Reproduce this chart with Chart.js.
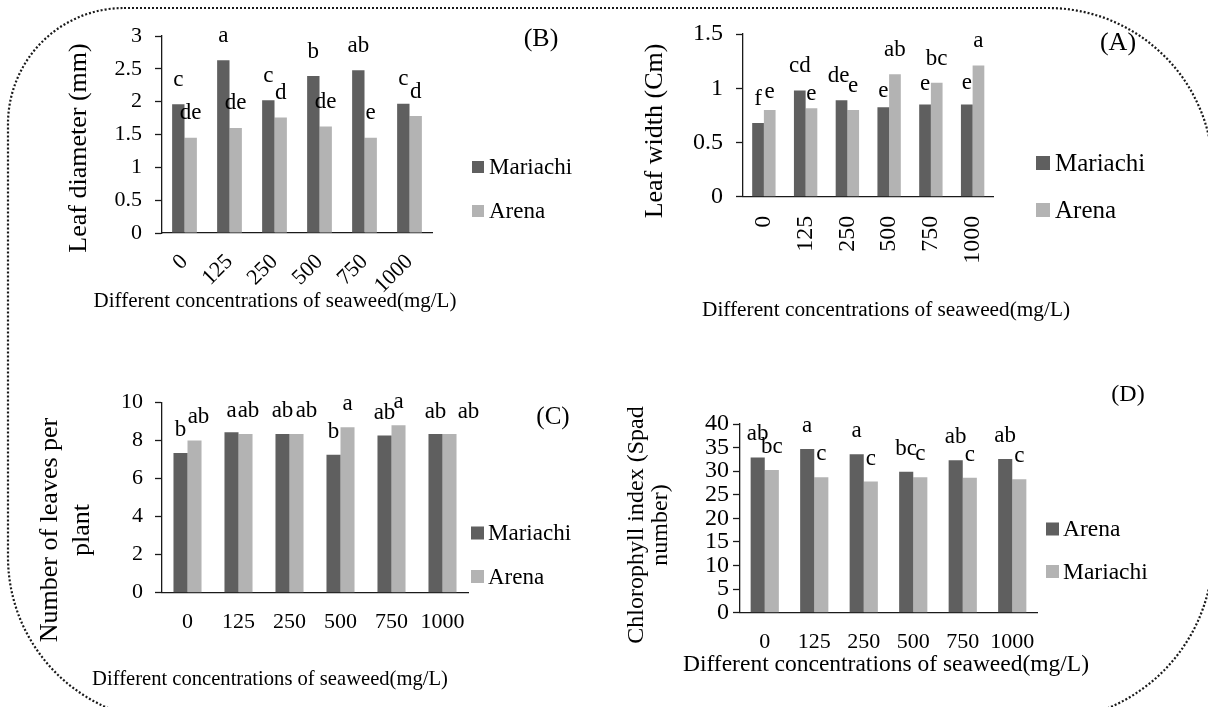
<!DOCTYPE html>
<html>
<head>
<meta charset="utf-8">
<script src="https://cdn.jsdelivr.net/npm/chart.js@4.4.1/dist/chart.umd.min.js"></script>
<style>
  html, body { margin: 0; padding: 0; background: #ffffff; }
  #stage { position: relative; width: 1208px; height: 707px; overflow: hidden; background: #ffffff; }
  #stage canvas, #frame { position: absolute; left: 0; top: 0; }
</style>
</head>
<body>
<div id="stage">
  <svg id="frame" width="1208" height="707"></svg>
  <canvas id="panelB" width="1208" height="707"></canvas>
  <canvas id="panelA" width="1208" height="707"></canvas>
  <canvas id="panelC" width="1208" height="707"></canvas>
  <canvas id="panelD" width="1208" height="707"></canvas>
</div>
<script>
// Seaweed concentrations (mg/L) shared by all four panels
const concentrations = ['0', '125', '250', '500', '750', '1000'];

// (B) Leaf diameter (mm)
const diameterMariachi = [1.96, 2.63, 2.02, 2.39, 2.48, 1.97];
const diameterArena    = [1.45, 1.60, 1.76, 1.62, 1.45, 1.78];
const diameterLettersMariachi = ['c', 'a', 'c', 'b', 'ab', 'c'];
const diameterLettersArena    = ['de', 'de', 'd', 'de', 'e', 'd'];

// (A) Leaf width (Cm)
const widthMariachi = [0.68, 0.98, 0.89, 0.825, 0.85, 0.85];
const widthArena    = [0.80, 0.815, 0.80, 1.13, 1.05, 1.21];
const widthLettersMariachi = ['f', 'cd', 'de', 'e', 'e', 'e'];
const widthLettersArena    = ['e', 'e', 'e', 'ab', 'bc', 'a'];

// (C) Number of leaves per plant
const leavesMariachi = [7.34, 8.43, 8.34, 7.24, 8.25, 8.34];
const leavesArena    = [8.00, 8.34, 8.34, 8.69, 8.79, 8.34];
const leavesLettersMariachi = ['b', 'a', 'ab', 'b', 'ab', 'ab'];
const leavesLettersArena    = ['ab', 'ab', 'ab', 'a', 'a', 'ab'];

// (D) Chlorophyll index (Spad number)
const chlorophyllArena    = [32.9, 34.7, 33.6, 29.9, 32.3, 32.6];
const chlorophyllMariachi = [30.25, 28.7, 27.8, 28.7, 28.6, 28.3];
const chlorophyllLettersArena    = ['ab', 'a', 'a', 'bc', 'ab', 'ab'];
const chlorophyllLettersMariachi = ['bc', 'c', 'c', 'c', 'c', 'c'];

const xTitle = 'Different concentrations of seaweed(mg/L)';

// ---- look ----
const SERIF = "'Liberation Serif', 'Times New Roman', serif";
const DARK = '#5f5f5f';
const LIGHT = '#b3b3b3';
const AXIS = '#1a1a1a';
const INK = '#000000';
const W = 1208, H = 707;
const Y_BOX = 80, X_BOX = 70;

// dotted rounded frame around the whole figure
(function drawFrame() {
  const l = 8, t = 8, r = 1213, b = 721;
  const tl = 116, tr = 165, br = 170, bl = 164;
  const d = [
    `M ${l + tl} ${t}`, `L ${r - tr} ${t}`, `A ${tr} ${tr} 0 0 1 ${r} ${t + tr}`,
    `L ${r} ${b - br}`, `A ${br} ${br} 0 0 1 ${r - br} ${b}`,
    `L ${l + bl} ${b}`, `A ${bl} ${bl} 0 0 1 ${l} ${b - bl}`,
    `L ${l} ${t + tl}`, `A ${tl} ${tl} 0 0 1 ${l + tl} ${t}`, 'Z'
  ].join(' ');
  const p = document.createElementNS('http://www.w3.org/2000/svg', 'path');
  p.setAttribute('d', d);
  p.setAttribute('fill', 'none');
  p.setAttribute('stroke', '#1a1a1a');
  p.setAttribute('stroke-width', '2.2');
  p.setAttribute('stroke-dasharray', '2 2');
  document.getElementById('frame').appendChild(p);
})();

// letters, legend, axis titles and panel tag
const panelDecor = {
  id: 'panelDecor',
  afterDraw(chart, args, o) {
    const ctx = chart.ctx;
    ctx.save();
    ctx.fillStyle = INK;

    // significance letters above each bar
    ctx.font = `${o.letterSize}px ${SERIF}`;
    ctx.textAlign = 'center';
    ctx.textBaseline = 'alphabetic';
    chart.data.datasets.forEach((ds, di) => {
      const meta = chart.getDatasetMeta(di);
      meta.data.forEach((bar, i) => {
        const n = (o.nudge || []).find(q => q.ds === di && q.i === i) || {};
        ctx.fillText(ds.letters[i], bar.x + (n.dx || 0), bar.y - o.gap + (n.dy || 0));
      });
    });

    // legend
    const lg = o.legend;
    ctx.font = `${lg.size}px ${SERIF}`;
    ctx.textAlign = 'left';
    ctx.textBaseline = 'middle';
    chart.data.datasets.forEach((ds, di) => {
      const cy = lg.y + di * lg.dy;
      ctx.fillStyle = ds.backgroundColor;
      ctx.fillRect(lg.x, cy - lg.box / 2, lg.box, lg.box);
      ctx.fillStyle = INK;
      ctx.fillText(ds.label, lg.x + lg.box + lg.gap, cy + 1);
    });

    // y axis title (one or two lines, rotated)
    const yt = o.yTitle;
    ctx.font = `${yt.size}px ${SERIF}`;
    ctx.textAlign = 'center';
    ctx.textBaseline = 'middle';
    yt.lines.forEach((line, k) => {
      ctx.save();
      ctx.translate(yt.x + k * yt.lineGap, yt.y);
      ctx.rotate(-Math.PI / 2);
      ctx.fillText(line, 0, 0);
      ctx.restore();
    });

    // x axis title
    const xt = o.xTitle;
    ctx.font = `${xt.size}px ${SERIF}`;
    ctx.fillText(xTitle, xt.x, xt.y);

    // panel tag
    const tg = o.tag;
    ctx.font = `${tg.size}px ${SERIF}`;
    ctx.fillText(tg.text, tg.x, tg.y);
    ctx.restore();
  }
};

function zeroPad(s) { s.paddingLeft = 0; s.paddingRight = 0; s.paddingTop = 0; s.paddingBottom = 0; }

function makePanel(id, p) {
  const a = p.area;
  return new Chart(document.getElementById(id), {
    type: 'bar',
    data: {
      labels: concentrations,
      datasets: p.series.map((s, k) => ({
        label: s.label,
        data: s.data,
        letters: s.letters,
        backgroundColor: k === 0 ? DARK : LIGHT,
        borderWidth: 0,
        categoryPercentage: p.group,
        barPercentage: 1.0
      }))
    },
    options: {
      responsive: false,
      animation: false,
      devicePixelRatio: 1,
      layout: { padding: { left: a.l - Y_BOX, right: W - a.r, top: a.t, bottom: H - a.b - X_BOX } },
      plugins: {
        legend: { display: false },
        tooltip: { enabled: false },
        panelDecor: p.decor
      },
      scales: {
        x: {
          offset: true,
          grid: { display: false, drawTicks: false },
          border: { display: true, color: AXIS, width: 1.3 },
          ticks: {
            color: INK, font: { family: SERIF, size: p.xTickSize },
            padding: p.xTickPad, minRotation: p.rot, maxRotation: p.rot,
            autoSkip: false, labelOffset: p.labelOffset || 0
          },
          afterFit(s) { s.height = X_BOX; zeroPad(s); }
        },
        y: {
          min: 0, max: p.yMax,
          ticks: {
            stepSize: p.yStep, color: INK, font: { family: SERIF, size: p.yTickSize },
            padding: p.yTickPad, autoSkip: false, callback: v => String(v)
          },
          grid: { drawOnChartArea: false, drawTicks: true, tickLength: 7, tickColor: AXIS, tickWidth: 1.3 },
          border: { display: true, color: AXIS, width: 1.3 },
          afterFit(s) { s.width = Y_BOX; zeroPad(s); }
        }
      }
    },
    plugins: [panelDecor]
  });
}

// (B) top left
makePanel('panelB', {
  area: { l: 162, r: 432, t: 36, b: 233 },
  yMax: 3, yStep: 0.5, group: 0.55, rot: 45,
  xTickSize: 22, xTickPad: 16, yTickSize: 22, yTickPad: 13,
  series: [
    { label: 'Mariachi', data: diameterMariachi, letters: diameterLettersMariachi },
    { label: 'Arena', data: diameterArena, letters: diameterLettersArena }
  ],
  decor: {
    letterSize: 23, gap: 18.5,
    legend: { x: 472, y: 167, dy: 44, box: 12, gap: 5, size: 23 },
    yTitle: { lines: ['Leaf diameter (mm)'], x: 79, y: 148, lineGap: 0, size: 26 },
    xTitle: { x: 275, y: 301, size: 21 },
    tag: { text: '(B)', x: 541, y: 39, size: 26 }
  }
});

// (A) top right
makePanel('panelA', {
  area: { l: 743, r: 993.5, t: 34, b: 196.7 },
  yMax: 1.5, yStep: 0.5, group: 0.56, rot: 90,
  xTickSize: 24, xTickPad: 19, yTickSize: 24, yTickPad: 13,
  series: [
    { label: 'Mariachi', data: widthMariachi, letters: widthLettersMariachi },
    { label: 'Arena', data: widthArena, letters: widthLettersArena }
  ],
  decor: {
    letterSize: 23, gap: 18,
    nudge: [
      { ds: 1, i: 0, dy: 6.3 }, { ds: 1, i: 1, dy: 9.7 },
      { ds: 0, i: 3, dy: 7.4 }, { ds: 0, i: 4, dy: 3.5 }, { ds: 0, i: 5, dy: 2 },
      { ds: 0, i: 2, dx: -3 }
    ],
    legend: { x: 1036, y: 163, dy: 47, box: 14, gap: 5, size: 25 },
    yTitle: { lines: ['Leaf width (Cm)'], x: 655, y: 131, lineGap: 0, size: 26 },
    xTitle: { x: 886, y: 310, size: 21.3 },
    tag: { text: '(A)', x: 1118, y: 43, size: 26 }
  }
});

// (C) bottom left
makePanel('panelC', {
  area: { l: 162, r: 468, t: 402.3, b: 592.7 },
  yMax: 10, yStep: 2, group: 0.55, rot: 0,
  xTickSize: 22, xTickPad: 16, yTickSize: 22, yTickPad: 12,
  series: [
    { label: 'Mariachi', data: leavesMariachi, letters: leavesLettersMariachi },
    { label: 'Arena', data: leavesArena, letters: leavesLettersArena }
  ],
  decor: {
    letterSize: 23, gap: 17,
    nudge: [
      { ds: 1, i: 0, dx: 4 }, { ds: 1, i: 1, dx: 3 }, { ds: 0, i: 1, dy: 1.5 },
      { ds: 1, i: 2, dx: 10 }, { ds: 1, i: 5, dx: 19, dy: 1.5 }, { ds: 0, i: 5, dy: 1.5 }
    ],
    legend: { x: 471, y: 533, dy: 43.5, box: 13, gap: 4, size: 23 },
    yTitle: { lines: ['Number of leaves per', 'plant'], x: 50, y: 530, lineGap: 32, size: 26 },
    xTitle: { x: 270, y: 680, size: 20.6 },
    tag: { text: '(C)', x: 553, y: 417, size: 25 }
  }
});

// (D) bottom right
makePanel('panelD', {
  area: { l: 740, r: 1037, t: 424, b: 612.7 },
  yMax: 40, yStep: 5, group: 0.57, rot: 0,
  xTickSize: 22, xTickPad: 16, yTickSize: 24, yTickPad: 4,
  series: [
    { label: 'Arena', data: chlorophyllArena, letters: chlorophyllLettersArena },
    { label: 'Mariachi', data: chlorophyllMariachi, letters: chlorophyllLettersMariachi }
  ],
  decor: {
    letterSize: 23, gap: 17,
    legend: { x: 1046, y: 529, dy: 42.5, box: 13, gap: 4, size: 23.5 },
    yTitle: { lines: ['Chlorophyll index (Spad', 'number)'], x: 637, y: 525, lineGap: 24, size: 24 },
    xTitle: { x: 886, y: 665, size: 23.5 },
    tag: { text: '(D)', x: 1128, y: 395, size: 24 }
  }
});
</script>
</body>
</html>
